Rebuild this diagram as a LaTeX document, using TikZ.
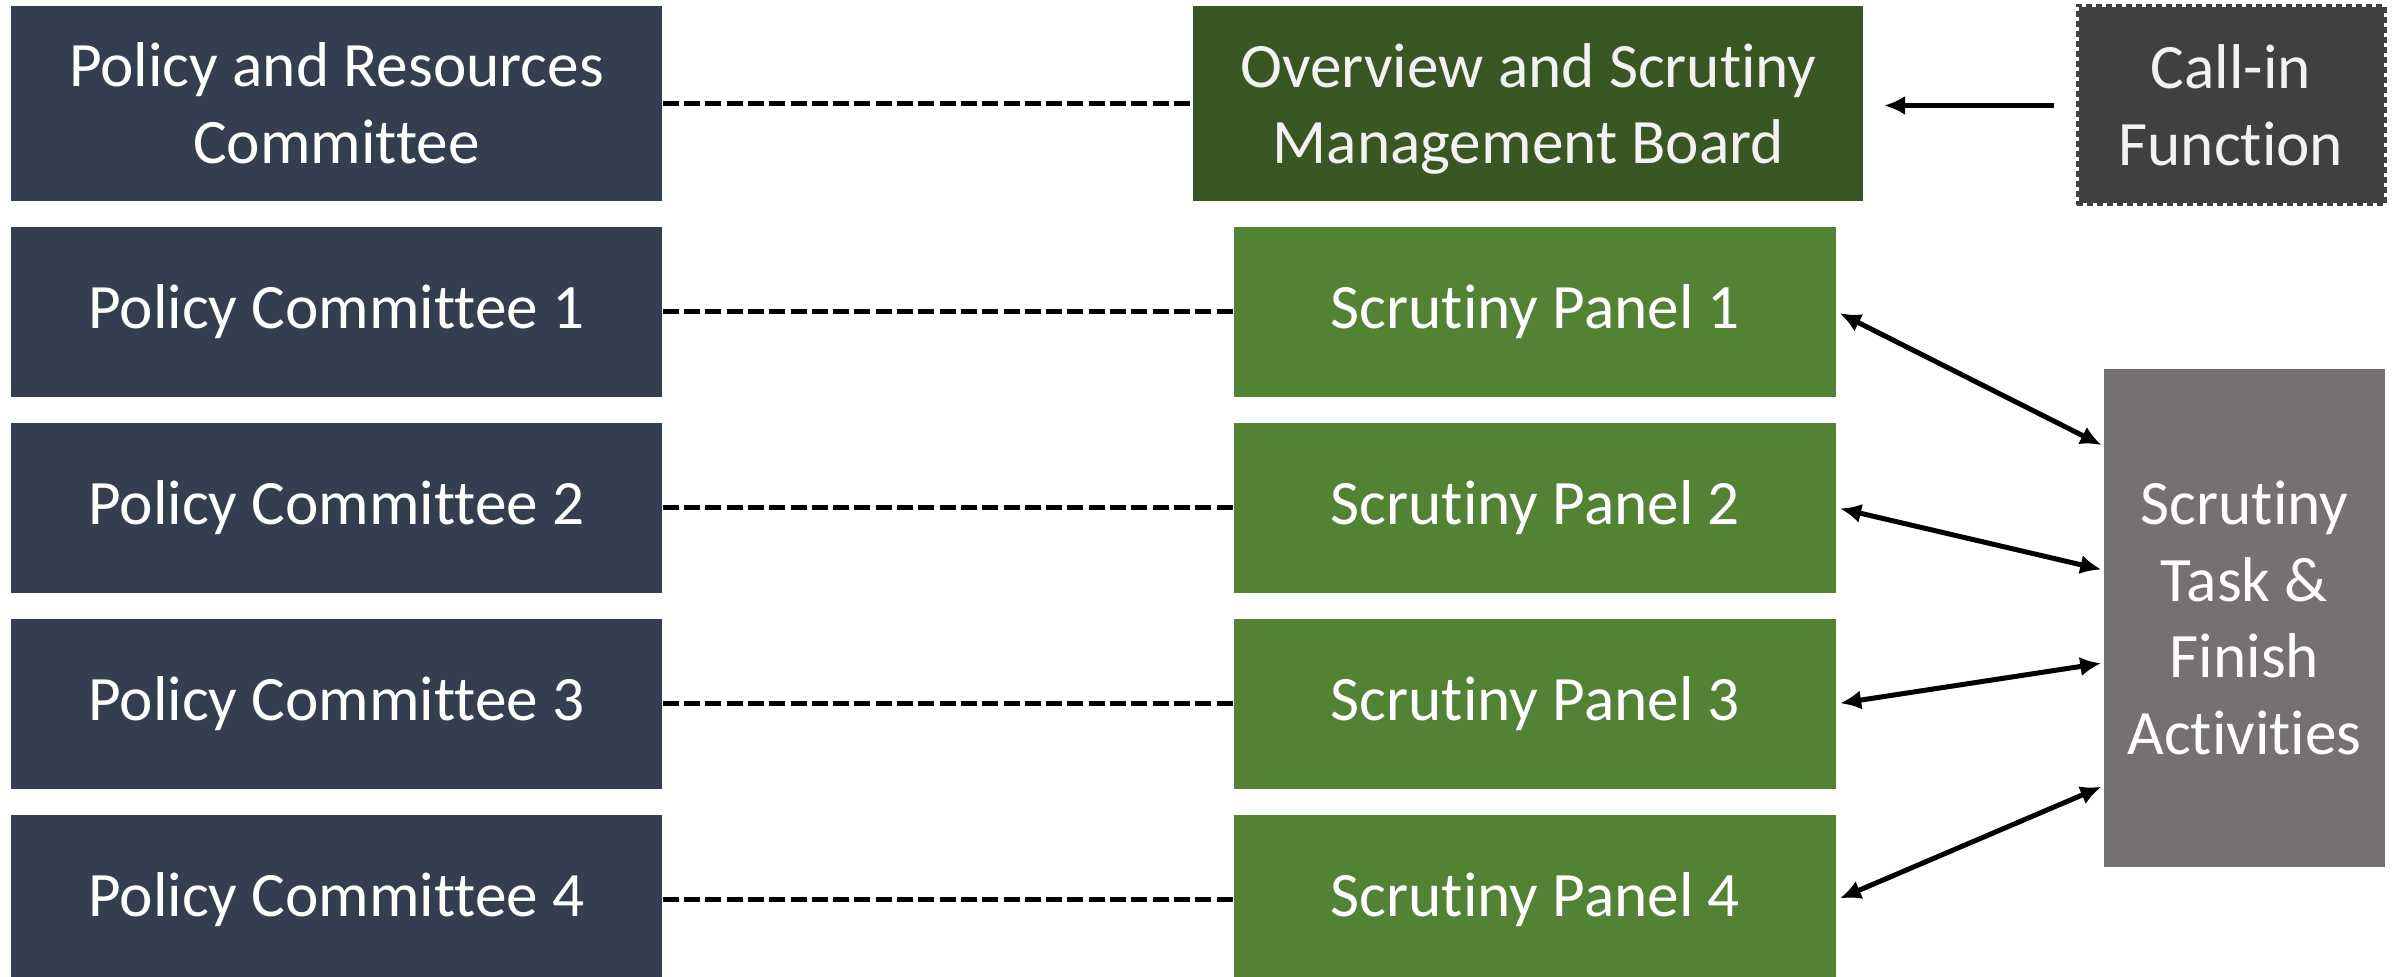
\documentclass[tikz,border=0pt]{standalone}
\usepackage{fontspec}
\setmainfont{Carlito}[Ligatures=NoCommon]
\usetikzlibrary{arrows.meta, positioning, calc}

\definecolor{navy}{HTML}{333F50}
\definecolor{boardgreen}{HTML}{385723}
\definecolor{panelgreen}{HTML}{548235}
\definecolor{callgray}{HTML}{404040}
\definecolor{taskgray}{HTML}{767171}

\begin{document}
\begin{tikzpicture}[
    committee/.style={rectangle, fill=navy, text=white, minimum width=6.51cm, minimum height=1.70cm, align=center, font=\fontsize{18}{21.8}\selectfont},
    board/.style={rectangle, fill=boardgreen, text=white!95!black, minimum width=6.70cm, minimum height=1.95cm, align=center, text depth=0pt, font=\fontsize{18}{21.8}\selectfont},
    panel/.style={rectangle, fill=panelgreen, text=white, minimum width=6.02cm, minimum height=1.70cm, align=center, font=\fontsize{18}{21.8}\selectfont},
    callin/.style={rectangle, fill=callgray, draw=white, line width=0.03cm, text=white!95!black, minimum width=3.08cm, minimum height=1.99cm, align=center, font=\fontsize{18}{21.8}\selectfont,
        postaction={draw=callgray, line width=0.03cm, dash pattern=on 0.06cm off 0.04cm}},
    taskbox/.style={rectangle, fill=taskgray, text=white, minimum width=2.81cm, minimum height=4.98cm, align=center, font=\fontsize{18}{21.8}\selectfont},
    link/.style={line width=0.05cm, dash pattern=on 0.16cm off 0.053cm},
    dep/.style={-{Latex[length=6pt, width=5.5pt]}, line width=0.05cm},
    twoway/.style={{Latex[length=6pt, width=5.5pt]}-{Latex[length=6pt, width=5.5pt]}, line width=0.05cm, shorten <=0.03cm, shorten >=0.02cm}
]
\useasboundingbox (0,0) rectangle (23.95,-9.77);

% Committees (left column)
\node[committee, minimum height=1.95cm] (pr) at (3.365,-1.035) {Policy and Resources\\Committee};
\node[committee] (pc1) [below=0.245cm of pr] {Policy Committee 1};
\node[committee] (pc2) [below=0.245cm of pc1] {Policy Committee 2};
\node[committee] (pc3) [below=0.245cm of pc2] {Policy Committee 3};
\node[committee] (pc4) [below=0.245cm of pc3] {Policy Committee 4};

% Scrutiny side
\node[board] (os) [right=5.30cm of pr] {Overview and Scrutiny\\Management Board};
\node[panel] (sp1) [right=5.71cm of pc1] {Scrutiny Panel 1};
\node[panel] (sp2) [right=5.71cm of pc2] {Scrutiny Panel 2};
\node[panel] (sp3) [right=5.71cm of pc3] {Scrutiny Panel 3};
\node[panel] (sp4) [right=5.71cm of pc4] {Scrutiny Panel 4};

\node[callin] (call) at (22.31,-1.055) {Call-in\\Function};
\node[taskbox] (stf) at (22.445,-6.18) {Scrutiny\\Task \&\\Finish\\Activities};

% Committee to scrutiny links
\draw[link] (pr.east) -- (os.west);
\draw[link] (pc1.east) -- (sp1.west);
\draw[link] (pc2.east) -- (sp2.west);
\draw[link] (pc3.east) -- (sp3.west);
\draw[link] (pc4.east) -- (sp4.west);

% Call-in feeds the board
\draw[dep, shorten <=0.22cm, shorten >=0.20cm] (call.west) -- (call.west -| os.east);

% Panels and task & finish work
\draw[twoway] (sp1.east) -- ([yshift=1.72cm]stf.west);
\draw[twoway] (sp2.east) -- ([yshift=0.48cm]stf.west);
\draw[twoway] (sp3.east) -- ([yshift=-0.45cm]stf.west);
\draw[twoway] (sp4.east) -- ([yshift=-1.68cm]stf.west);

\end{tikzpicture}
\end{document}
